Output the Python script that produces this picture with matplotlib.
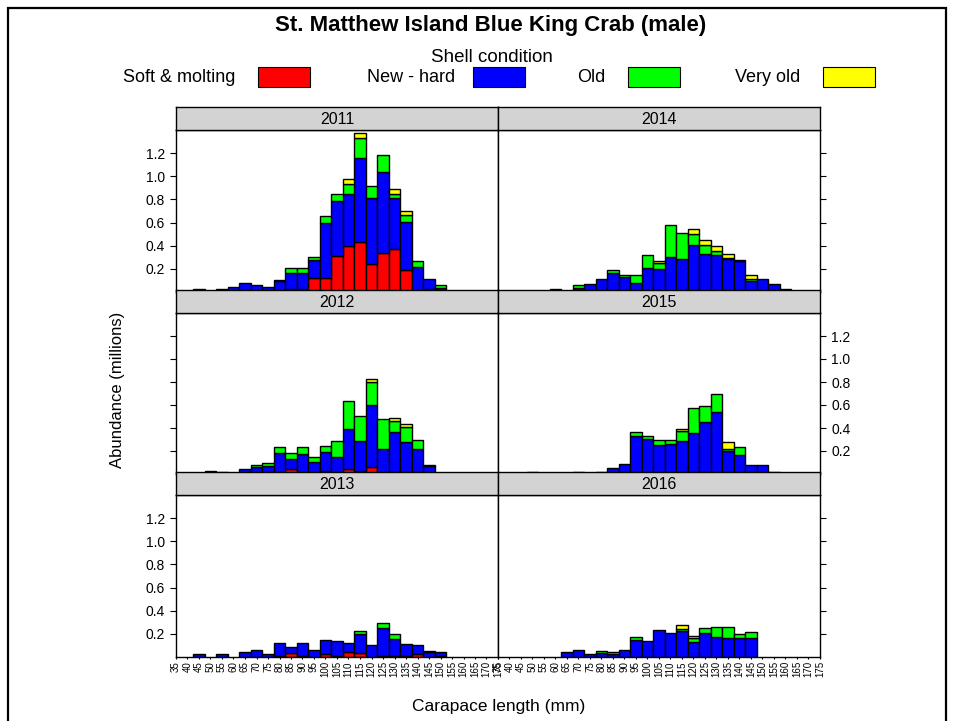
import matplotlib
matplotlib.use("Agg")
import matplotlib.pyplot as plt
from matplotlib.patches import Rectangle

plt.rcParams["font.family"] = ["Liberation Sans", "DejaVu Sans"]

# carapace length bins (mm)
lengths = [35, 40, 45, 50, 55, 60, 65, 70, 75, 80, 85, 90, 95, 100, 105,
           110, 115, 120, 125, 130, 135, 140, 145, 150, 155, 160, 165, 170, 175]

shell_names = ["Soft & molting", "New - hard", "Old", "Very old"]
shell_colors = ["#ff0000", "#0000ff", "#00ff00", "#ffff00"]

# abundance (millions) per shell condition, bins grouped by 5
soft_2011 = [0, 0, 0, 0, 0, 0, 0, 0, 0, 0, .03, .03, .12, .12, .31,
             .40, .43, .245, .34, .375, .19, 0, .03, 0, 0, 0, 0, 0, 0]
new_2011 = [0, 0, .025, 0, .025, .04, .078, .058, .04, .095, .13, .137, .154, .48, .477,
            .45, .726, .565, .70, .435, .418, .216, .085, .032, 0, 0, 0, 0, 0]
old_2011 = [0, 0, 0, 0, 0, 0, 0, 0, 0, .012, .046, .043, .029, .054, .063,
            .087, .178, .104, .14, .04, .055, .049, 0, .028, 0, 0, 0, 0, 0]
vold_2011 = [0, 0, 0, 0, 0, 0, 0, 0, 0, 0, 0, 0, 0, 0, 0,
             .037, .044, 0, 0, .043, .04, 0, 0, 0, 0, 0, 0, 0, 0]

soft_2012 = [0, 0, 0, 0, 0, 0, .012, 0, 0, 0, .043, 0, 0, .023, 0,
             .043, .023, .058, 0, .012, 0, 0, 0, 0, 0, 0, 0, 0, 0]
new_2012 = [0, 0, 0, 0, .014, 0, .034, .061, .072, .18, .085, .171, .107, .167, .145,
            .345, .264, .542, .22, .35, .278, .22, .072, .012, 0, 0, 0, 0, 0]
old_2012 = [0, 0, 0, .023, 0, 0, 0, .02, .027, .058, .052, .067, .044, .056, .145,
            .25, .22, .197, .258, .099, .128, .073, .008, 0, 0, 0, 0, 0, 0]
vold_2012 = [0, 0, 0, 0, 0, 0, 0, 0, 0, 0, 0, 0, 0, 0, 0,
             0, 0, .026, 0, .026, .029, 0, 0, 0, 0, 0, 0, 0, 0]

soft_2013 = [0, 0, 0, 0, 0, 0, 0, 0, 0, .01, .037, .01, 0, .03, .01,
             .046, .037, 0, .01, .01, .01, .03, 0, .01, 0, 0, 0, 0, 0]
new_2013 = [0, 0, .026, 0, .026, 0, .043, .063, .026, .114, .049, .114, .063, .114, .125,
            .078, .163, .107, .244, .148, .105, .077, .04, .03, 0, 0, 0, 0, 0]
old_2013 = [0, 0, 0, 0, 0, 0, 0, 0, 0, 0, 0, 0, 0, 0, 0,
            0, .028, 0, .04, .042, 0, 0, .012, 0, 0, 0, 0, 0, 0]
vold_2013 = [0] * 29

soft_2014 = [0] * 29
new_2014 = [0, 0, 0, 0, 0, .026, 0, .037, .072, .11, .161, .127, .078, .205, .199,
            .305, .288, .409, .328, .323, .282, .265, .098, .115, .069, .026, 0, 0, 0]
old_2014 = [0, 0, 0, 0, 0, 0, 0, .023, 0, 0, .029, .023, .066, .115, .051,
            .277, .225, .092, .081, .031, .01, .015, .017, 0, 0, 0, 0, 0, 0]
vold_2014 = [0, 0, 0, 0, 0, 0, 0, 0, 0, 0, 0, 0, 0, 0, .02,
             0, 0, .041, .041, .046, .036, 0, .035, 0, 0, 0, 0, 0, 0]

soft_2015 = [0, 0, 0, 0, 0, 0, 0, 0, 0, 0, 0, 0, 0, 0, 0,
             .012, 0, 0, 0, 0, 0, 0, 0, 0, 0, 0, 0, 0, 0]
new_2015 = [0, 0, 0, .014, 0, 0, 0, .014, 0, 0, .049, .087, .328, .304, .249,
            .249, .29, .357, .455, .539, .20, .165, .078, .078, .014, 0, 0, 0, 0]
old_2015 = [0, 0, 0, 0, 0, 0, 0, 0, 0, .014, 0, 0, .034, .024, .047,
            .035, .084, .214, .136, .157, .02, .067, 0, 0, 0, 0, 0, 0, 0]
vold_2015 = [0, 0, 0, 0, 0, 0, 0, 0, 0, 0, 0, 0, 0, 0, 0,
             0, .02, 0, 0, 0, .058, 0, 0, 0, 0, 0, 0, 0, 0]

soft_2016 = [0] * 29
new_2016 = [0, 0, 0, 0, 0, 0, .043, .063, .026, .032, .026, .063, .15, .135, .236,
            .207, .225, .133, .21, .173, .161, .161, .161, 0, 0, 0, 0, 0, 0]
old_2016 = [0, 0, 0, 0, 0, 0, 0, 0, 0, .023, .02, 0, .026, 0, 0,
            0, .017, .031, .038, .086, .098, .038, .055, 0, 0, 0, 0, 0, 0]
vold_2016 = [0, 0, 0, 0, 0, 0, 0, 0, 0, 0, 0, 0, 0, 0, 0,
             0, .035, .02, 0, 0, 0, 0, 0, 0, 0, 0, 0, 0, 0]

panels = {
    "2011": [soft_2011, new_2011, old_2011, vold_2011],
    "2012": [soft_2012, new_2012, old_2012, vold_2012],
    "2013": [soft_2013, new_2013, old_2013, vold_2013],
    "2014": [soft_2014, new_2014, old_2014, vold_2014],
    "2015": [soft_2015, new_2015, old_2015, vold_2015],
    "2016": [soft_2016, new_2016, old_2016, vold_2016],
}
layout = [["2011", "2014"], ["2012", "2015"], ["2013", "2016"]]
yticks = [0.2, 0.4, 0.6, 0.8, 1.0, 1.2]

W, H = 954, 721
fig = plt.figure(figsize=(W / 100, H / 100), dpi=100)


def fx(px):
    return px / W


def fy(py):
    return 1 - py / H


col_left = [176, 498]
col_w = 322
row_top = [130, 313, 495]
row_bot = [292, 474, 657]
strip_h = 23

for r in range(3):
    for c in range(2):
        year = layout[r][c]
        ax = fig.add_axes([fx(col_left[c]), fy(row_bot[r]), col_w / W,
                           (row_bot[r] - row_top[r]) / H])
        bottom = [0.0] * len(lengths)
        for vals, col in zip(panels[year], shell_colors):
            xs = [l for l, v in zip(lengths, vals) if v > 0]
            hs = [v for v in vals if v > 0]
            bs = [b for b, v in zip(bottom, vals) if v > 0]
            ax.bar(xs, hs, bottom=bs, width=5, color=col, edgecolor="black",
                   linewidth=1.0, zorder=2)
            bottom = [b + v for b, v in zip(bottom, vals)]
        ax.set_xlim(35, 175)
        ax.set_ylim(0, 1.40)
        for s in ax.spines.values():
            s.set_linewidth(1.0)
        ax.set_yticks(yticks)
        ax.set_yticklabels([f"{t:.1f}" for t in yticks])
        side_right = c == 1
        label_on = (r == 1) == side_right
        ax.tick_params(axis="y", direction="out", length=4.5, width=0.8,
                       left=not side_right, right=side_right,
                       labelleft=(not side_right) and label_on,
                       labelright=side_right and label_on, labelsize=10)
        ax.set_xticks(lengths)
        if r == 2:
            ax.set_xticklabels([str(l) for l in lengths], rotation=90, fontsize=7)
            ax.tick_params(axis="x", direction="out", length=1.5, width=0.8, pad=1.5)
        else:
            ax.tick_params(axis="x", bottom=False, labelbottom=False)

        # strip with year
        sax = fig.add_axes([fx(col_left[c]), fy(row_top[r]), col_w / W, strip_h / H])
        sax.set_facecolor("#d3d3d3")
        sax.set_xticks([])
        sax.set_yticks([])
        for s in sax.spines.values():
            s.set_linewidth(1.0)
        sax.text(0.5, 0.45, year, ha="center", va="center", fontsize=11.5,
                 transform=sax.transAxes)

# title and legend
fig.text(fx(491), fy(25), "St. Matthew Island Blue King Crab (male)",
         ha="center", va="center", fontsize=16, fontweight="bold")
fig.text(fx(492), fy(57), "Shell condition", ha="center", va="center", fontsize=13.5)
text_ends = [235, 455, 605, 800]
box_lefts = [258, 473, 628, 823]
for name, col, te, bl in zip(shell_names, shell_colors, text_ends, box_lefts):
    fig.text(fx(te), fy(78), name, ha="right", va="center", fontsize=13)
    fig.patches.append(Rectangle((fx(bl), fy(87)), 52 / W, 20 / H, facecolor=col,
                                 edgecolor="black", linewidth=0.8,
                                 transform=fig.transFigure, figure=fig))

fig.text(fx(118), fy(390), "Abundance (millions)", rotation=90,
         ha="center", va="center", fontsize=12)
fig.text(fx(499), fy(707), "Carapace length (mm)", ha="center", va="center",
         fontsize=12.5)

# outer frame
fig.patches.append(Rectangle((fx(8), -0.02), (946 - 8) / W, fy(8) + 0.02,
                             facecolor="none", edgecolor="black", linewidth=1.6,
                             transform=fig.transFigure, figure=fig))

fig.savefig("out.png", dpi=100)
